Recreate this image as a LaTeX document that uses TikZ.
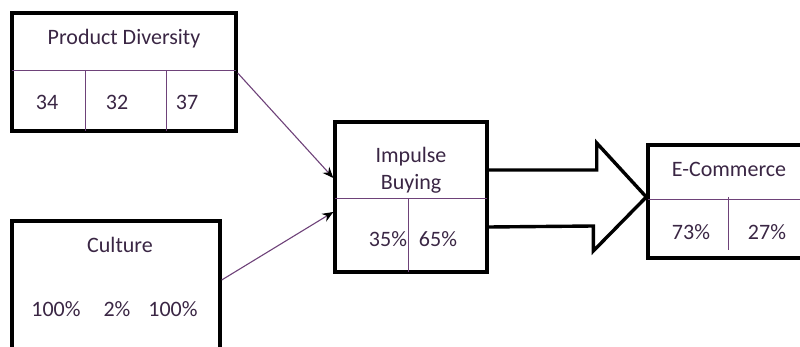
\documentclass[tikz,border=0pt]{standalone}
\usepackage{fontspec}
\setmainfont{Carlito}
\usepackage{tikz}
\usetikzlibrary{arrows.meta}

\definecolor{ink}{HTML}{3A2644}
\definecolor{rule}{HTML}{6E4279}

\begin{document}
\begin{tikzpicture}[x=1pt, y=-1pt,
	box/.style={draw=black, line width=3.4pt, rectangle, inner sep=0pt},
	txt/.style={text=ink, anchor=base, inner sep=0pt, font=\fontsize{22}{26}\selectfont},
	sep/.style={draw=rule, line width=1pt},
	link/.style={draw=rule, line width=1.1pt, -{Stealth[length=11pt,width=9pt,color=black]}},
	big/.style={draw=black, line width=3.4pt, line join=miter}]
	\useasboundingbox (0,0) rectangle (800,347);
	\clip (0,0) rectangle (800,347);
	% boxes
	\node[box, minimum width=224, minimum height=118] (pd) at (124,72) {};
	\node[box, minimum width=208, minimum height=139] (cult) at (116,290.5) {};
	\node[box, minimum width=152, minimum height=150] (imp) at (411,197) {};
	\node[box, minimum width=182, minimum height=113] (ecom) at (739,201.5) {};
	% inner rules
	\draw[sep] (12,71) -- (236,71);
	\draw[sep] (85,71) -- (85,131);
	\draw[sep] (166,71) -- (166,131);
	\draw[sep] (335,199) -- (487,199);
	\draw[sep] (408,199) -- (408,272);
	\draw[sep] (648,200) -- (830,200);
	\draw[sep] (728,197) -- (728,250);
	% texts
	\node[txt] (pdname) at (124,45) {Product Diversity};
	\node[txt] (pda) at (47,110) {34};
	\node[txt] (pdb) at (117,110) {32};
	\node[txt] (pdc) at (187,110) {37};
	\node[txt] (cultname) at (120,253) {Culture};
	\node[txt] (culta) at (56,316) {100\%};
	\node[txt] (cultb) at (117,316) {2\%};
	\node[txt] (cultc) at (173,316) {100\%};
	\node[txt] (impname) at (411,163) {Impulse};
	\node[txt] (impname2) at (411,190) {Buying};
	\node[txt] (impa) at (388,247) {35\%};
	\node[txt] (impb) at (438,247) {65\%};
	\node[txt] (ecomname) at (729,177) {E-Commerce};
	\node[txt] (ecoma) at (691,240) {73\%};
	\node[txt] (ecomb) at (767,240) {27\%};
	% links
	\draw[link] ([yshift=-1]pd.east) -- ([yshift=19]imp.west);
	\draw[link] ([yshift=10.5]cult.east) -- ([yshift=-15]imp.west);
	% block arrow
	\draw[big] ([yshift=27]imp.east) -- ++(108,0) -- ++(0,-27) -- (ecom.west |- imp.east)
		-- ++(-53,54) -- ++(0,-25) -- ([yshift=-30]imp.east);
\end{tikzpicture}
\end{document}
